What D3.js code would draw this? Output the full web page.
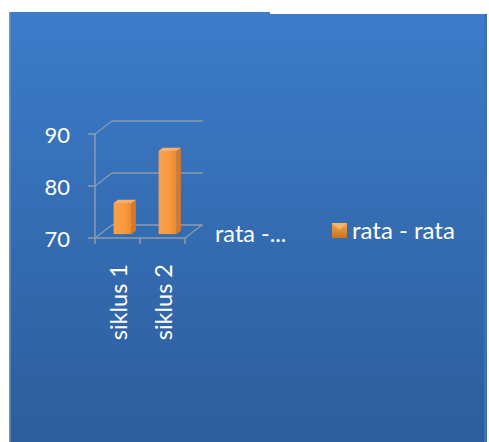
<!DOCTYPE html>
<html><head><meta charset="utf-8">
<script src="https://cdn.jsdelivr.net/npm/d3@7"></script>
<style>html,body{margin:0;padding:0;background:#fff;}svg{display:block;}</style>
</head><body>
<script>
const categories = ["siklus 1", "siklus 2"];
const values = [76, 86];
const yTicks = [70, 80, 90];
const seriesName = "rata - rata";
const depthLabel = "rata -...";

const W = 489, H = 442;
const svg = d3.select("body").append("svg").attr("width", W).attr("height", H);
const defs = svg.append("defs");
const bg = defs.append("linearGradient").attr("id","bg").attr("x1",0).attr("y1",0).attr("x2",0).attr("y2",1);
bg.append("stop").attr("offset","0%").attr("stop-color","#3c7cca");
bg.append("stop").attr("offset","100%").attr("stop-color","#2d5d9b");
const bf = defs.append("linearGradient").attr("id","barf").attr("x1",0).attr("y1",0).attr("x2",1).attr("y2",0);
bf.append("stop").attr("offset","0%").attr("stop-color","#f7a04a");
bf.append("stop").attr("offset","60%").attr("stop-color","#fb9a3e");
bf.append("stop").attr("offset","100%").attr("stop-color","#e98a30");
const lg = defs.append("linearGradient").attr("id","leg").attr("x1",0).attr("y1",0).attr("x2",0).attr("y2",1);
lg.append("stop").attr("offset","0%").attr("stop-color","#f3a653");
lg.append("stop").attr("offset","100%").attr("stop-color","#c8741f");

svg.append("rect").attr("x",9).attr("y",12).attr("width",478).attr("height",H-12).attr("fill","url(#bg)");
svg.append("rect").attr("x",270).attr("y",12).attr("width",219).attr("height",2).attr("fill","#fff");
svg.append("rect").attr("x",9).attr("y",12).attr("width",1.5).attr("height",H-12).attr("fill","#6d9ad6");
svg.append("rect").attr("x",484).attr("y",14).attr("width",3).attr("height",H-14).attr("fill","#3a72b5");

const font = "Lato, 'Open Sans', sans-serif";
const y = d3.scaleLinear().domain([70,90]).range([238,134]);
const x = d3.scaleBand().domain(categories).range([95,185]).paddingInner(0).paddingOuter(0);
const dx = 17, dy = -13;
const lineCol = "#8c9bb0";

const g = svg.append("g");
yTicks.forEach(t => {
  const yy = y(t);
  g.append("line").attr("x1",95).attr("y1",yy).attr("x2",95+dx).attr("y2",yy+dy).attr("stroke",lineCol).attr("stroke-width",1.3);
  g.append("line").attr("x1",95+dx).attr("y1",yy+dy).attr("x2",203).attr("y2",yy+dy).attr("stroke",lineCol).attr("stroke-width",1.3);
});
g.append("line").attr("x1",185).attr("y1",y(70)).attr("x2",202).attr("y2",y(70)+dy).attr("stroke",lineCol).attr("stroke-width",1.3);
g.append("line").attr("x1",95).attr("y1",y(90)).attr("x2",95).attr("y2",y(70)).attr("stroke",lineCol).attr("stroke-width",1.5);
g.append("line").attr("x1",95).attr("y1",y(70)).attr("x2",185).attr("y2",y(70)).attr("stroke",lineCol).attr("stroke-width",1.5);
yTicks.forEach(t => {
  g.append("line").attr("x1",88).attr("y1",y(t)).attr("x2",95).attr("y2",y(t)).attr("stroke",lineCol).attr("stroke-width",1.5);
  g.append("text").attr("x",70).attr("y",y(t)+1.5).attr("dy","0.36em").attr("text-anchor","end")
   .attr("font-family",font).attr("font-size",22).attr("fill","#fff").text(t);
});
const xt = [95].concat(categories.map(c => x(c)+x.bandwidth()));
xt.forEach(v => g.append("line").attr("x1",v).attr("y1",y(70)).attr("x2",v).attr("y2",y(70)+6).attr("stroke",lineCol).attr("stroke-width",1.5));

const bw = 18, fd = 0.3, bd = 0.55;
categories.forEach((c,i) => {
  const cx = x(c) + x.bandwidth()/2;
  const ox = dx*fd, oy = dy*fd;
  const x0 = cx - bw/2 + ox, x1 = x0 + bw;
  const yb = y(70) + oy, yt = y(values[i]) + oy;
  const ddx = dx*(bd-fd), ddy = dy*(bd-fd);
  g.append("path").attr("d",`M${x1},${yb}L${x1+ddx},${yb+ddy}L${x1+ddx},${yt+ddy}L${x1},${yt}Z`).attr("fill","#d9782a");
  g.append("path").attr("d",`M${x0},${yt}L${x0+ddx},${yt+ddy}L${x1+ddx},${yt+ddy}L${x1},${yt}Z`).attr("fill","#fbb06a");
  g.append("rect").attr("x",x0).attr("y",yt).attr("width",bw).attr("height",yb-yt).attr("fill","url(#barf)");
  g.append("text").attr("transform",`translate(${cx+9.5},${264}) rotate(-90)`)
   .attr("text-anchor","end").attr("font-family",font).attr("font-size",23.5).attr("fill","#fff").text(c);
});

svg.append("text").attr("x",215).attr("y",242).attr("font-family",font).attr("font-size",23.5).attr("fill","#fff").text(depthLabel);

svg.append("rect").attr("x",332).attr("y",223).attr("width",15).attr("height",15).attr("fill","url(#leg)");
svg.append("path").attr("d","M332,223L339.5,230L347,223Z").attr("fill","#f8c07a").attr("opacity",0.7);
svg.append("text").attr("x",352).attr("y",239).attr("font-family",font).attr("font-size",24).attr("fill","#fff").text(seriesName);
</script>
</body></html>
